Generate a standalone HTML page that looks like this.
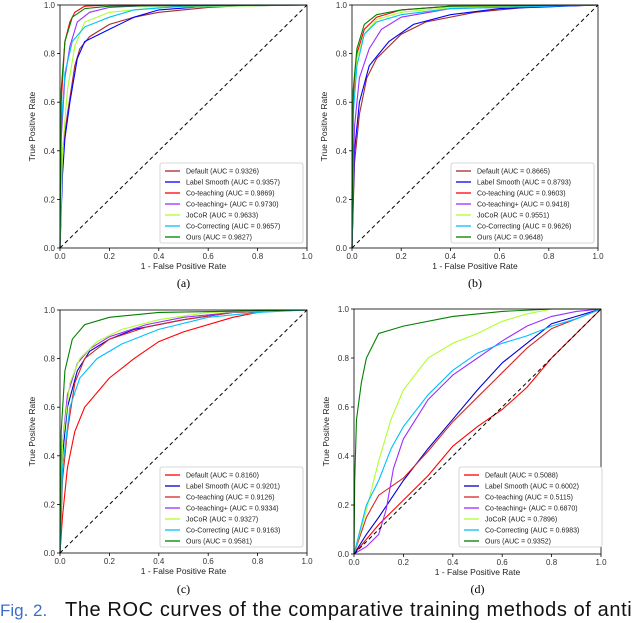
<!DOCTYPE html>
<html><head><meta charset="utf-8"><style>
body{margin:0;background:#fff;width:640px;height:623px;overflow:hidden;font-family:"Liberation Sans",sans-serif}
svg{position:absolute;left:0;top:0}
</style></head><body>
<svg id="chart" width="640" height="623" xmlns="http://www.w3.org/2000/svg"></svg>
<script>
const methods=["Default","Label Smooth","Co-teaching","Co-teaching+","JoCoR","Co-Correcting","Ours"];
const colorsAB=["#a52a2a","#0000ff","#ff0000","#9b30ff","#adff2f","#00bfff","#008000"];
const colorsCD=["#ff0000","#0000cd","#d62728","#9b30ff","#adff2f","#00bfff","#008000"];
const ticks=[0,0.2,0.4,0.6,0.8,1.0];
const tickLabels=["0.0","0.2","0.4","0.6","0.8","1.0"];
const aucA=["0.9326","0.9357","0.9869","0.9730","0.9633","0.9657","0.9827"];
const aucB=["0.8665","0.8793","0.9603","0.9418","0.9551","0.9626","0.9648"];
const aucC=["0.8160","0.9201","0.9126","0.9334","0.9327","0.9163","0.9581"];
const aucD=["0.5088","0.6002","0.5115","0.6870","0.7896","0.6983","0.9352"];
const curvesA=[
[[0,0],[0.01,0.4],[0.03,0.55],[0.06,0.75],[0.08,0.82],[0.12,0.87],[0.2,0.92],[0.3,0.95],[0.4,0.97],[0.6,0.99],[0.8,1],[1,1]],
[[0,0],[0.01,0.3],[0.02,0.45],[0.04,0.6],[0.07,0.78],[0.1,0.85],[0.2,0.9],[0.3,0.95],[0.4,0.98],[0.6,0.995],[1,1]],
[[0,0],[0.005,0.6],[0.02,0.85],[0.04,0.93],[0.06,0.97],[0.1,0.995],[0.2,1],[1,1]],
[[0,0],[0.005,0.45],[0.02,0.7],[0.04,0.83],[0.07,0.93],[0.12,0.97],[0.2,0.99],[0.4,1],[1,1]],
[[0,0],[0.01,0.4],[0.03,0.65],[0.06,0.83],[0.1,0.93],[0.2,0.97],[0.4,0.99],[1,1]],
[[0,0],[0.005,0.5],[0.02,0.72],[0.05,0.85],[0.1,0.91],[0.2,0.95],[0.3,0.98],[0.5,0.995],[1,1]],
[[0,0],[0.005,0.65],[0.02,0.85],[0.05,0.95],[0.1,0.985],[0.2,0.995],[1,1]]];
const curvesB=[
[[0,0],[0.01,0.35],[0.03,0.55],[0.06,0.7],[0.1,0.78],[0.2,0.88],[0.3,0.93],[0.5,0.97],[0.7,0.99],[1,1]],
[[0,0],[0.01,0.4],[0.03,0.6],[0.07,0.75],[0.15,0.85],[0.25,0.92],[0.4,0.96],[0.6,0.985],[1,1]],
[[0,0],[0.005,0.6],[0.02,0.8],[0.05,0.9],[0.1,0.95],[0.2,0.98],[0.4,0.995],[1,1]],
[[0,0],[0.01,0.5],[0.03,0.7],[0.07,0.82],[0.12,0.9],[0.2,0.95],[0.4,0.985],[1,1]],
[[0,0],[0.005,0.55],[0.02,0.78],[0.05,0.88],[0.1,0.94],[0.2,0.97],[0.4,0.99],[1,1]],
[[0,0],[0.005,0.55],[0.02,0.75],[0.05,0.88],[0.1,0.93],[0.2,0.96],[0.4,0.985],[1,1]],
[[0,0],[0.005,0.65],[0.02,0.82],[0.05,0.92],[0.1,0.96],[0.2,0.98],[0.4,0.995],[1,1]]];
const curvesC=[
[[0,0],[0.01,0.15],[0.03,0.35],[0.06,0.5],[0.1,0.6],[0.2,0.72],[0.3,0.8],[0.4,0.87],[0.5,0.91],[0.7,0.97],[0.85,1],[1,1]],
[[0,0],[0.01,0.4],[0.03,0.6],[0.07,0.75],[0.12,0.83],[0.2,0.88],[0.3,0.92],[0.5,0.96],[0.7,0.99],[1,1]],
[[0,0],[0.01,0.3],[0.03,0.5],[0.06,0.7],[0.1,0.8],[0.2,0.88],[0.35,0.93],[0.5,0.96],[0.7,0.99],[1,1]],
[[0,0],[0.01,0.45],[0.03,0.65],[0.07,0.78],[0.12,0.84],[0.2,0.89],[0.35,0.94],[0.5,0.97],[0.8,1],[1,1]],
[[0,0],[0.01,0.45],[0.04,0.7],[0.08,0.8],[0.15,0.87],[0.25,0.92],[0.4,0.96],[0.6,0.99],[1,1]],
[[0,0],[0.01,0.35],[0.04,0.6],[0.08,0.72],[0.15,0.8],[0.25,0.86],[0.4,0.92],[0.6,0.97],[0.8,0.99],[1,1]],
[[0,0],[0.005,0.5],[0.02,0.75],[0.05,0.88],[0.1,0.94],[0.2,0.97],[0.4,0.99],[1,1]]];
const curvesD=[
[[0,0],[0.1,0.12],[0.2,0.22],[0.3,0.32],[0.4,0.44],[0.5,0.52],[0.6,0.59],[0.7,0.68],[0.8,0.8],[0.9,0.9],[1,1]],
[[0,0],[0.05,0.08],[0.1,0.15],[0.2,0.3],[0.3,0.43],[0.4,0.55],[0.5,0.67],[0.6,0.78],[0.7,0.86],[0.8,0.94],[0.9,0.97],[1,1]],
[[0,0],[0.05,0.15],[0.1,0.24],[0.2,0.31],[0.3,0.42],[0.4,0.54],[0.5,0.64],[0.6,0.74],[0.7,0.84],[0.8,0.92],[1,1]],
[[0,0],[0.05,0.03],[0.1,0.08],[0.13,0.18],[0.16,0.35],[0.2,0.47],[0.3,0.63],[0.4,0.73],[0.5,0.8],[0.6,0.87],[0.7,0.93],[0.8,0.97],[0.9,0.99],[1,1]],
[[0,0],[0.05,0.18],[0.1,0.38],[0.15,0.55],[0.2,0.67],[0.3,0.8],[0.4,0.86],[0.5,0.9],[0.6,0.95],[0.7,0.98],[0.8,1],[1,1]],
[[0,0],[0.05,0.2],[0.1,0.3],[0.15,0.43],[0.2,0.52],[0.3,0.65],[0.4,0.75],[0.5,0.82],[0.6,0.86],[0.7,0.89],[0.8,0.93],[0.9,0.96],[1,1]],
[[0,0],[0.003,0.3],[0.01,0.55],[0.03,0.7],[0.05,0.8],[0.1,0.9],[0.2,0.93],[0.4,0.97],[0.6,0.99],[0.8,1],[1,1]]];

const NS="http://www.w3.org/2000/svg";
const svg=document.getElementById("chart");
function mk(tag,attrs,parent,text){const e=document.createElementNS(NS,tag);for(const k in attrs)e.setAttribute(k,attrs[k]);if(text!==undefined)e.textContent=text;(parent||svg).appendChild(e);return e;}

const panels=[
 {id:"a",x0:60,x1:307,y0:5,y1:248,curves:curvesA,auc:aucA,colors:colorsAB,cap:"(a)",capY:287,lx:160,ly:163},
 {id:"b",x0:352,x1:598,y0:5,y1:248,curves:curvesB,auc:aucB,colors:colorsAB,cap:"(b)",capY:287,lx:451,ly:163},
 {id:"c",x0:60,x1:307,y0:310,y1:553,curves:curvesC,auc:aucC,colors:colorsCD,cap:"(c)",capY:593,lx:160,ly:467},
 {id:"d",x0:354,x1:601,y0:309,y1:554,curves:curvesD,auc:aucD,colors:colorsCD,cap:"(d)",capY:593,lx:459,ly:467}];

panels.forEach(p=>{
 const g=mk("g",{});
 
 
 const sx=v=>p.x0+v*(p.x1-p.x0), sy=v=>p.y1-v*(p.y1-p.y0);
 p.curves.forEach((c,i)=>{
  const d=c.map((pt,j)=>(j?"L":"M")+sx(pt[0]).toFixed(1)+","+sy(pt[1]).toFixed(1)).join("");
  const path=mk("path",{d:d,fill:"none",stroke:p.colors[i],"stroke-width":1.1},g);
  
  
 });
 const diag=mk("line",{x1:sx(0),y1:sy(0),x2:sx(1),y2:sy(1),stroke:"#000","stroke-width":1,"stroke-dasharray":"4,3"},g);
 
 
 const frame=mk("rect",{x:p.x0,y:p.y0,width:p.x1-p.x0,height:p.y1-p.y0,fill:"none",stroke:"#000","stroke-width":0.8},g);
 
 
 ticks.forEach((t,i)=>{
  mk("line",{x1:sx(t),y1:p.y1,x2:sx(t),y2:p.y1+3,stroke:"#000","stroke-width":0.8},g);
  const xl=mk("text",{x:sx(t),y:p.y1+11,"font-size":8,"text-anchor":"middle",fill:"#333"},g,tickLabels[i]);
  
  
  mk("line",{x1:p.x0-3,y1:sy(t),x2:p.x0,y2:sy(t),stroke:"#000","stroke-width":0.8},g);
  const yl=mk("text",{x:p.x0-5,y:sy(t)+3,"font-size":8,"text-anchor":"end",fill:"#333"},g,tickLabels[i]);
  
  
 });
 const xt=mk("text",{x:(p.x0+p.x1)/2,y:p.y1+21,"font-size":8.5,"text-anchor":"middle",fill:"#222"},g,"1 - False Positive Rate");
 
 
 const cy=(p.y0+p.y1)/2, cx=p.x0-25;
 const yt=mk("text",{x:cx,y:cy,"font-size":8.5,"text-anchor":"middle",fill:"#222",transform:"rotate(-90 "+cx+" "+cy+")"},g,"True Positive Rate");
 
 
 const lg=mk("g",{},g);
 
 
 mk("rect",{x:p.lx,y:p.ly,width:143,height:80,fill:"#fff",stroke:"#ccc","stroke-width":0.8,rx:2},lg);
 methods.forEach((m,i)=>{
  const yy=p.ly+8+i*11;
  const e=mk("g",{},lg);
  
  
  mk("line",{x1:p.lx+5,y1:yy,x2:p.lx+20,y2:yy,stroke:p.colors[i],"stroke-width":1.3},e);
  mk("text",{x:p.lx+26,y:yy+2.6,"font-size":7,fill:"#222"},e,m+" (AUC = "+p.auc[i]+")");
 });
 const cap=mk("text",{x:(p.x0+p.x1)/2,y:p.capY,"font-size":12,"text-anchor":"middle","font-family":"Liberation Serif, serif",fill:"#000"},g,p.cap);
 
 
});
const f=mk("text",{x:0,y:616,"font-size":17,fill:"#3a6fc4"},svg,"Fig. 2.");


const t=mk("text",{x:65,y:616,"font-size":20,fill:"#111","letter-spacing":"0.6"},svg,"The ROC curves of the comparative training methods of anti");


</script>
</body></html>
